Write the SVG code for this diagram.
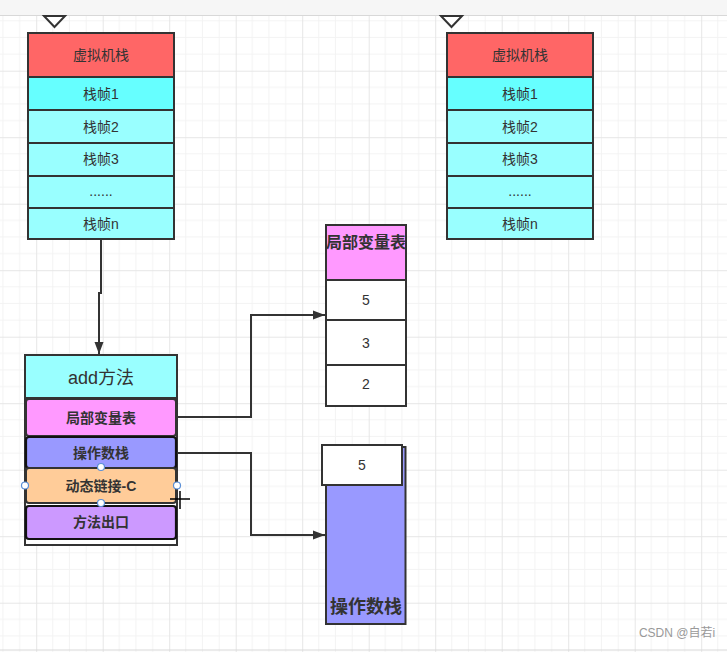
<svg xmlns="http://www.w3.org/2000/svg" width="727" height="652" viewBox="0 0 727 652">
<style>
.b{stroke:#333;stroke-width:2}
.t{font-family:"Liberation Sans","Noto Sans CJK SC",sans-serif;font-size:14px;fill:#333;text-anchor:middle;dominant-baseline:central}
.tb{font-family:"Liberation Sans","Noto Sans CJK SC",sans-serif;font-size:14px;font-weight:bold;fill:#333;text-anchor:middle;dominant-baseline:central}
.conn{fill:none;stroke:#333;stroke-width:2}
.h{fill:#fff;stroke:#5b8fd6;stroke-width:1.2}
</style>
<defs>
<pattern id="grid" x="36.2" y="4.2" width="66.5" height="66.5" patternUnits="userSpaceOnUse">
<path d="M16.6 0V66.5M33.25 0V66.5M49.9 0V66.5M0 16.6H66.5M0 33.25H66.5M0 49.9H66.5" stroke="#f3f3f3" stroke-width="1"/>
<path d="M0.5 0V66.5M0 0.5H66.5" stroke="#e6e6e6" stroke-width="1"/>
</pattern>
<marker id="arr" markerWidth="12" markerHeight="10" refX="12" refY="5" orient="auto" markerUnits="userSpaceOnUse">
<path d="M0 0.5L12 5L0 9.5Z" fill="#333"/>
</marker>
</defs>
<rect width="727" height="652" fill="#fff"/>
<rect width="727" height="652" fill="url(#grid)"/>
<rect x="0" y="0" width="727" height="15" fill="#f6f6f6"/>
<line x1="0" y1="15.5" x2="727" y2="15.5" stroke="#d8d8d8"/>
<line x1="0" y1="650" x2="727" y2="650" stroke="#d8d8d8"/>

<g id="connectors">
<path class="conn" d="M101 240V293H99V354" marker-end="url(#arr)"/>
<path class="conn" d="M177 417H251V315H325" marker-end="url(#arr)"/>
<path class="conn" d="M177 453H251V535H325" marker-end="url(#arr)"/>
</g>

<g id="triangles">
<path d="M44 16L65 16L54.5 27Z" fill="#fff" stroke="#333" stroke-width="2"/>
<path d="M441 16L462 16L451.5 27Z" fill="#fff" stroke="#333" stroke-width="2"/>
</g>

<g id="stack-left">
<rect class="b" x="28" y="33" width="146" height="44" fill="#FF6666"/>
<rect class="b" x="28" y="77" width="146" height="33" fill="#66FFFF"/>
<rect class="b" x="28" y="110" width="146" height="33" fill="#99FFFF"/>
<rect class="b" x="28" y="143" width="146" height="33" fill="#99FFFF"/>
<rect class="b" x="28" y="176" width="146" height="32" fill="#99FFFF"/>
<rect class="b" x="28" y="208" width="146" height="31" fill="#99FFFF"/>
<text class="t" x="101" y="55">虚拟机栈</text>
<text class="t" x="101" y="94">栈帧1</text>
<text class="t" x="101" y="127">栈帧2</text>
<text class="t" x="101" y="159">栈帧3</text>
<text class="t" x="101" y="191">......</text>
<text class="t" x="101" y="224">栈帧n</text>
</g>

<g id="stack-right">
<rect class="b" x="447" y="33" width="146" height="44" fill="#FF6666"/>
<rect class="b" x="447" y="77" width="146" height="33" fill="#66FFFF"/>
<rect class="b" x="447" y="110" width="146" height="33" fill="#99FFFF"/>
<rect class="b" x="447" y="143" width="146" height="33" fill="#99FFFF"/>
<rect class="b" x="447" y="176" width="146" height="32" fill="#99FFFF"/>
<rect class="b" x="447" y="208" width="146" height="31" fill="#99FFFF"/>
<text class="t" x="520" y="55">虚拟机栈</text>
<text class="t" x="520" y="94">栈帧1</text>
<text class="t" x="520" y="127">栈帧2</text>
<text class="t" x="520" y="159">栈帧3</text>
<text class="t" x="520" y="191">......</text>
<text class="t" x="520" y="224">栈帧n</text>
</g>

<g id="add-method">
<rect class="b" x="25" y="355" width="152" height="190" fill="#fff"/>
<rect class="b" x="25" y="355" width="152" height="43" fill="#99FFFF"/>
<text class="t" x="101" y="378" style="font-size:18px">add方法</text>
<rect class="b" x="26" y="399" width="150" height="37" rx="3" fill="#FF99FF"/>
<text class="tb" x="101" y="418">局部变量表</text>
<rect x="26" y="437" width="150" height="31" rx="3" fill="#9999FF" stroke="#111" stroke-width="2.2"/>
<text class="tb" x="101" y="453">操作数栈</text>
<rect class="b" x="26" y="468" width="150" height="35" rx="3" fill="#FFCC99"/>
<text class="tb" x="101" y="486">动态链接-C</text>
<rect x="26" y="506" width="150" height="33" rx="3" fill="#CC99FF" stroke="#111" stroke-width="2.2"/>
<text class="tb" x="101" y="522">方法出口</text>
<circle class="h" cx="101" cy="467" r="3.5"/>
<circle class="h" cx="25" cy="485.5" r="3.5"/>
<circle class="h" cx="177" cy="485.5" r="3.5"/>
<circle class="h" cx="101" cy="503" r="3.5"/>
<path d="M180 491V509M170 499H190" stroke="#000" stroke-width="1.5"/>
</g>

<g id="local-vars">
<rect class="b" x="326" y="225" width="80" height="55" fill="#FF99FF"/>
<text class="tb" x="366" y="242" style="font-size:16px">局部变量表</text>
<rect class="b" x="326" y="280" width="80" height="40" fill="#fff"/>
<text class="t" x="366" y="300">5</text>
<rect class="b" x="326" y="320" width="80" height="45" fill="#fff"/>
<text class="t" x="366" y="343">3</text>
<rect class="b" x="326" y="365" width="80" height="41" fill="#fff"/>
<text class="t" x="366" y="384">2</text>
</g>

<g id="operand-stack">
<rect x="326" y="447" width="79.5" height="177" fill="#9999FF" stroke="#333" stroke-width="2"/>
<text class="tb" x="366" y="607" style="font-size:18px">操作数栈</text>
<rect class="b" x="322" y="445" width="80" height="40" fill="#fff"/>
<text class="t" x="362" y="465">5</text>
</g>

<text x="677" y="637" style="font-family:'Liberation Sans','Noto Sans CJK SC',sans-serif;font-size:12px;fill:#999;text-anchor:middle">CSDN @自若i</text>
</svg>
